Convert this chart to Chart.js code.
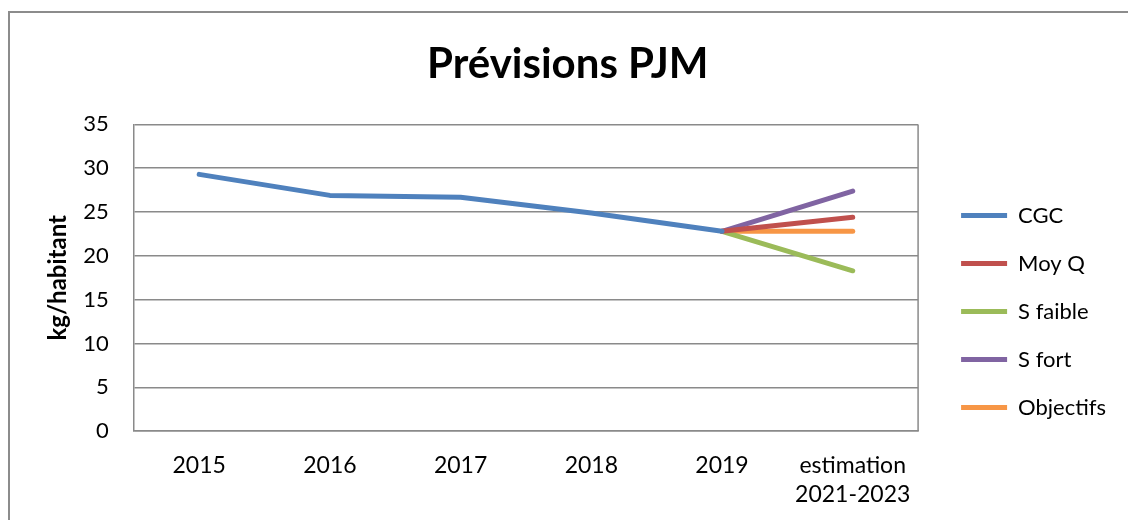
<!DOCTYPE html>
<html>
<head>
<meta charset="utf-8">
<script src="https://cdn.jsdelivr.net/npm/chart.js@4.4.1/dist/chart.umd.min.js"></script>
<style>
  html, body { margin: 0; padding: 0; background: #fff; }
  #wrap { position: absolute; left: 0; top: 0; width: 1128px; height: 520px; }
</style>
</head>
<body>
<div id="wrap"><canvas id="chart"></canvas></div>
<script>
const categories = ['2015', '2016', '2017', '2018', '2019', ['estimation', '2021-2023']];

// series values, kg/habitant
const cgc       = [29.3, 26.9, 26.7, 24.9, 22.8, null];
const moyQ      = [null, null, null, null, 22.8, 24.4];
const sFaible   = [null, null, null, null, 22.8, 18.3];
const sFort     = [null, null, null, null, 22.8, 27.4];
const objectifs = [null, null, null, null, 22.8, 22.8];

const yTicks = [0, 5, 10, 15, 20, 25, 30, 35];

const FONT = 'Lato, "Open Sans", sans-serif';
const gridColor = '#8a8a8a';

function series(label, values, color) {
    return {
        label,
        data: values,
        borderColor: color,
        backgroundColor: color,
        borderWidth: 5,
        borderCapStyle: 'round',
        borderJoinStyle: 'round',
        pointRadius: 0,
        tension: 0,
        spanGaps: false,
    };
}

// outer frame + right edge of the plot area
const frame = {
    id: 'frame',
    beforeDraw(chart) {
        const { ctx } = chart;
        ctx.save();
        ctx.strokeStyle = '#8c8c8c';
        ctx.lineWidth = 2;
        ctx.beginPath();
        ctx.moveTo(9, 520);
        ctx.lineTo(9, 12);
        ctx.lineTo(1128, 12);
        ctx.stroke();
        ctx.restore();
    },
    afterDatasetsDraw(chart) {
        const { ctx, chartArea: a } = chart;
        ctx.save();
        ctx.strokeStyle = gridColor;
        ctx.lineWidth = 1.5;
        ctx.beginPath();
        ctx.moveTo(a.right, a.top);
        ctx.lineTo(a.right, a.bottom);
        ctx.stroke();
        ctx.restore();
    }
};

new Chart(document.getElementById('chart'), {
    type: 'line',
    data: {
        labels: categories,
        datasets: [
            series('CGC', cgc, '#4F81BD'),
            series('Moy Q', moyQ, '#C0504D'),
            series('S faible', sFaible, '#9BBB59'),
            series('S fort', sFort, '#8064A2'),
            series('Objectifs', objectifs, '#F79646'),
        ]
    },
    options: {
        responsive: true,
        maintainAspectRatio: false,
        animation: false,
        layout: { padding: { top: 18, left: 19.5, right: 12, bottom: -9 } },
        scales: {
            x: {
                offset: true,
                grid: { display: false, drawTicks: false },
                border: { display: true, color: gridColor, width: 1.5 },
                ticks: {
                    color: '#000',
                    padding: 19,
                    maxRotation: 0,
                    autoSkip: false,
                    font: { family: FONT, size: 23, lineHeight: 1.3 }
                }
            },
            y: {
                min: 0,
                max: 35,
                afterBuildTicks(axis) { axis.ticks = yTicks.map(v => ({ value: v })); },
                grid: { color: gridColor, lineWidth: 1.5, drawTicks: false },
                border: { display: true, color: gridColor, width: 1.5 },
                ticks: {
                    color: '#000',
                    padding: 25,
                    font: { family: FONT, size: 22 }
                },
                title: {
                    display: true,
                    text: 'kg/habitant',
                    color: '#000',
                    font: { family: FONT, size: 24, weight: 'bold' },
                    padding: { top: 24.5, bottom: -14.5 }
                }
            },
            // empty spacer between plot area and legend
            gap: {
                position: 'right',
                display: true,
                grid: { display: false },
                border: { display: false },
                ticks: { display: false },
                afterFit(axis) { axis.width = 17; }
            }
        },
        plugins: {
            title: {
                display: true,
                text: 'Prévisions PJM',
                color: '#000',
                font: { family: FONT, size: 42, weight: 'bold' },
                padding: { top: 21, bottom: 35 }
            },
            legend: {
                position: 'right',
                align: 'center',
                title: { display: true, text: ' ', font: { size: 10 }, padding: { top: 32, bottom: 32 } },
                labels: {
                    color: '#000',
                    usePointStyle: true,
                    pointStyle: 'line',
                    pointStyleWidth: 46,
                    boxHeight: 22,
                    padding: 26,
                    font: { family: FONT, size: 22 }
                }
            },
            tooltip: { enabled: false }
        }
    },
    plugins: [frame]
});
</script>
</body>
</html>
